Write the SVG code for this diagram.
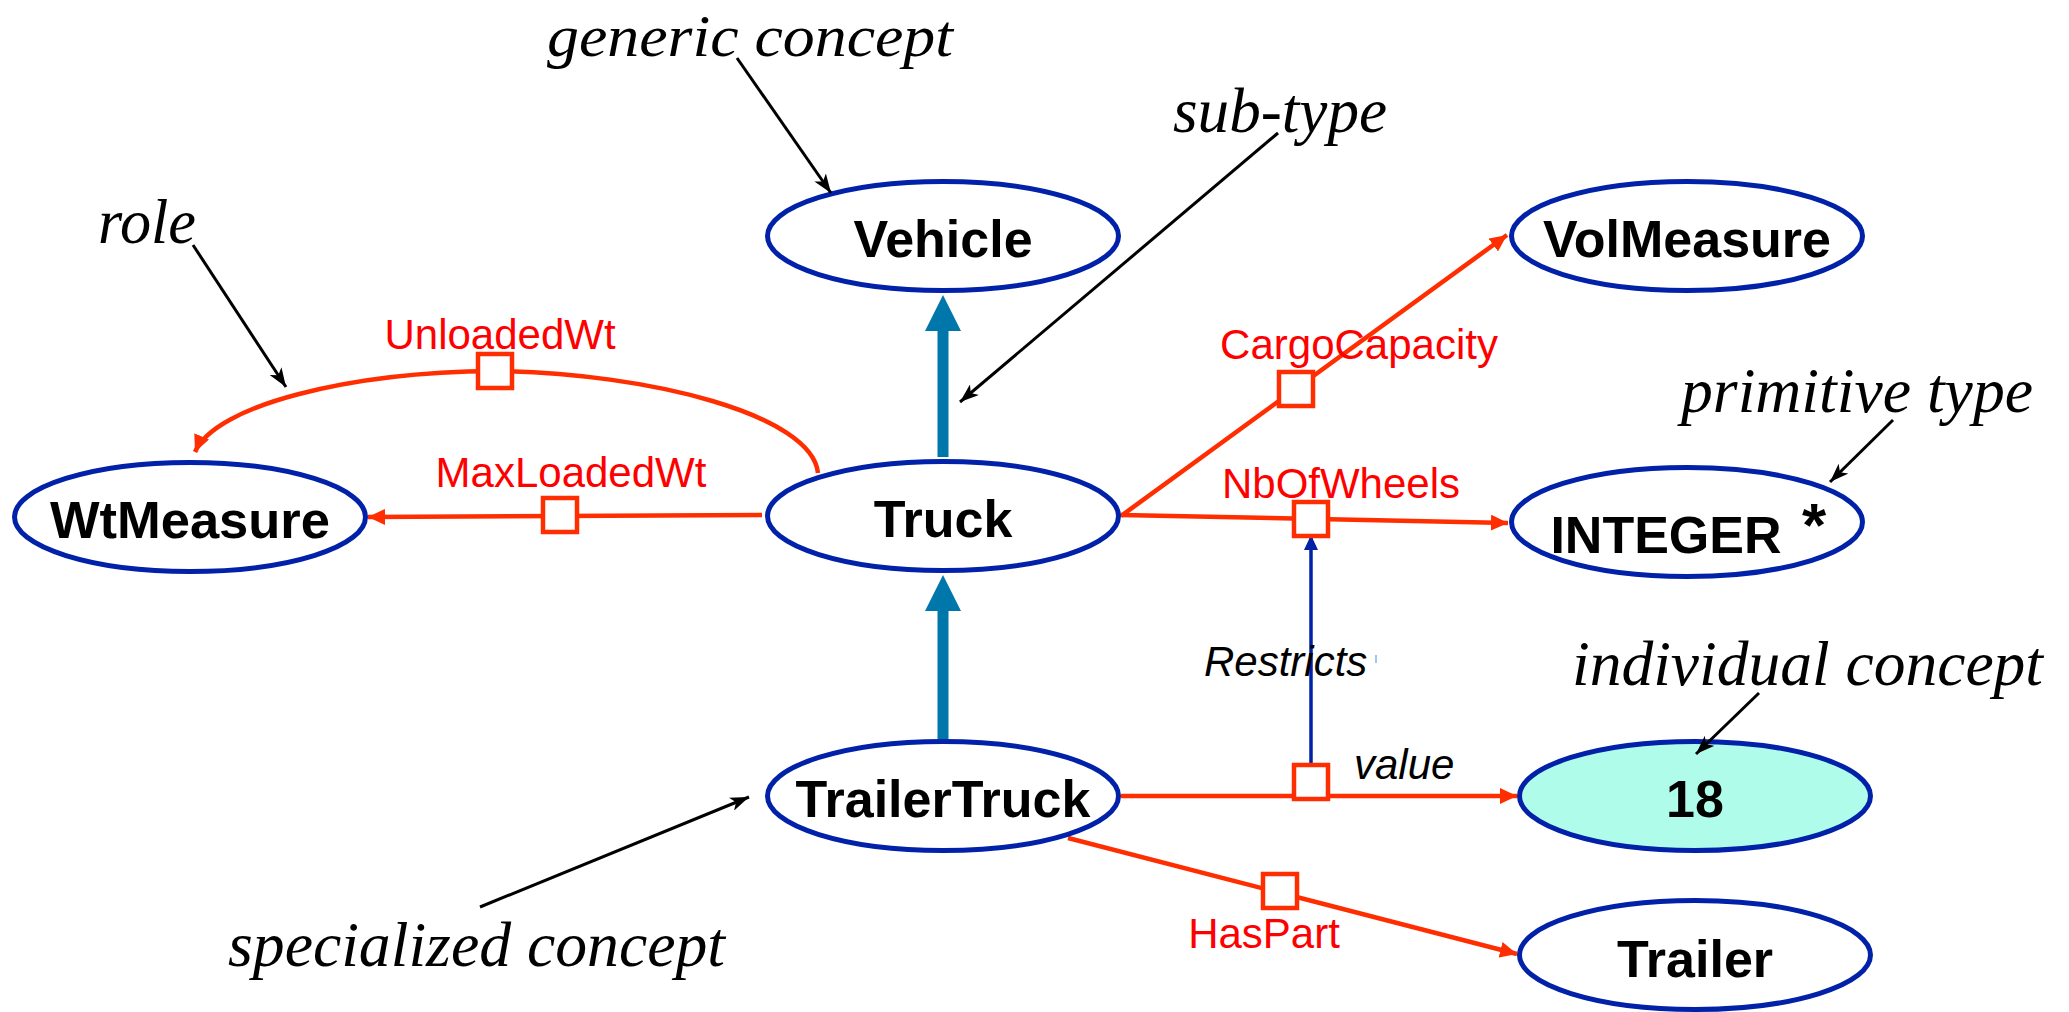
<svg xmlns="http://www.w3.org/2000/svg" width="2069" height="1012" viewBox="0 0 2069 1012">
<style>
.node ellipse{fill:#fff;stroke:#0021A8;stroke-width:5}
.node text{font-family:"Liberation Sans",Arial,sans-serif;font-weight:bold;font-size:52px;fill:#000;text-anchor:middle}
.rel{fill:none;stroke:#FF2E00;stroke-width:4.5}
.box{fill:#fff;stroke:#FF2E00;stroke-width:4.5}
.lbl{font-family:"Liberation Sans",Arial,sans-serif;font-size:42px;fill:#FF0000;text-anchor:middle}
.ital{font-family:"Liberation Sans",Arial,sans-serif;font-style:italic;font-size:42px;fill:#000}
.note{font-family:"Liberation Serif","Times New Roman",serif;font-style:italic;font-size:64px;fill:#000}
.pointer{fill:none;stroke:#000;stroke-width:3}
.isa{fill:#0077AA}
</style>
<defs>
<marker id="redArrow" markerUnits="userSpaceOnUse" markerWidth="18" markerHeight="16" refX="17" refY="8" orient="auto">
<path d="M0,0 L17,8 L0,16 z" fill="#FF2E00"/>
</marker>
<marker id="blkArrow" markerUnits="userSpaceOnUse" markerWidth="20" markerHeight="14" refX="19" refY="7" orient="auto">
<path d="M0,0 L19,7 L0,14 L5,7 z" fill="#000"/>
</marker>
<marker id="blueArrow" markerUnits="userSpaceOnUse" markerWidth="16" markerHeight="14" refX="15" refY="7" orient="auto">
<path d="M0,0 L15,7 L0,14 z" fill="#0021A8"/>
</marker>
</defs>

<g id="connectors">
<rect class="isa" x="937.5" y="328" width="11" height="129"/>
<polygon class="isa" points="943,295 925,331 961,331"/>
<rect class="isa" x="937.5" y="608" width="11" height="131"/>
<polygon class="isa" points="943,575 925,611 961,611"/>
<path class="rel" d="M818,473 C812,415 650,373 495,371 C350,372 215,405 195,452" marker-end="url(#redArrow)"/>
<line class="rel" x1="762" y1="515" x2="368" y2="517" marker-end="url(#redArrow)"/>
<line class="rel" x1="1121" y1="516" x2="1507" y2="235" marker-end="url(#redArrow)"/>
<line class="rel" x1="1121" y1="515" x2="1508" y2="523" marker-end="url(#redArrow)"/>
<line class="rel" x1="1121" y1="796" x2="1517" y2="796" marker-end="url(#redArrow)"/>
<line class="rel" x1="1068" y1="838" x2="1517" y2="954" marker-end="url(#redArrow)"/>
<line x1="1311" y1="766" x2="1311" y2="535" stroke="#0021A8" stroke-width="3.5" marker-end="url(#blueArrow)"/>
<line x1="1376" y1="655" x2="1376" y2="663" stroke="#7FB6E0" stroke-width="1.5"/>
<rect class="box" x="478" y="354" width="34" height="34"/>
<rect class="box" x="543" y="498" width="34" height="34"/>
<rect class="box" x="1279" y="372" width="34" height="34"/>
<rect class="box" x="1294" y="502" width="34" height="34"/>
<rect class="box" x="1294" y="765" width="34" height="34"/>
<rect class="box" x="1263" y="874" width="34" height="34"/>
<text class="lbl" x="500" y="349">UnloadedWt</text>
<text class="lbl" x="571" y="487">MaxLoadedWt</text>
<text class="lbl" x="1359" y="359">CargoCapacity</text>
<text class="lbl" x="1341" y="498">NbOfWheels</text>
<text class="lbl" x="1264" y="948">HasPart</text>
<text class="ital" x="1204" y="676">Restricts</text>
<text class="ital" x="1354" y="779">value</text>
</g>

<g id="node-vehicle" class="node"><ellipse cx="943" cy="236" rx="175.5" ry="54.5"/><text x="943" y="257">Vehicle</text></g>
<g id="node-truck" class="node"><ellipse cx="943" cy="516" rx="175.5" ry="54.5"/><text x="943" y="537">Truck</text></g>
<g id="node-trailertruck" class="node"><ellipse cx="943" cy="796" rx="175.5" ry="54.5"/><text x="943" y="817">TrailerTruck</text></g>
<g id="node-wtmeasure" class="node"><ellipse cx="190" cy="517" rx="175.5" ry="54.5"/><text x="190" y="538" textLength="280" lengthAdjust="spacingAndGlyphs">WtMeasure</text></g>
<g id="node-volmeasure" class="node"><ellipse cx="1687" cy="236" rx="175.5" ry="54.5"/><text x="1687" y="257">VolMeasure</text></g>
<g id="node-integer" class="node"><ellipse cx="1687" cy="522" rx="175.5" ry="54.5"/><text x="1666" y="553">INTEGER</text><text x="1814" y="546" style="font-size:62px">*</text></g>
<g id="node-18" class="node"><ellipse cx="1695" cy="796" rx="175.5" ry="54.5" style="fill:#AFFCEA"/><text x="1695" y="817">18</text></g>
<g id="node-trailer" class="node"><ellipse cx="1695" cy="955" rx="175.5" ry="54.5"/><text x="1695" y="977">Trailer</text></g>

<g id="annotations">
<text class="note" x="547" y="56" textLength="406" lengthAdjust="spacingAndGlyphs" style="font-size:60px">generic concept</text>
<line class="pointer" x1="737" y1="58" x2="831" y2="193" marker-end="url(#blkArrow)"/>
<text class="note" x="1173" y="132" textLength="214" lengthAdjust="spacingAndGlyphs">sub-type</text>
<line class="pointer" x1="1278" y1="133" x2="960" y2="402" marker-end="url(#blkArrow)"/>
<text class="note" x="98" y="243" textLength="98" lengthAdjust="spacingAndGlyphs">role</text>
<line class="pointer" x1="193" y1="245" x2="286" y2="387" marker-end="url(#blkArrow)"/>
<text class="note" x="1681" y="412" textLength="352" lengthAdjust="spacingAndGlyphs">primitive type</text>
<line class="pointer" x1="1893" y1="420" x2="1830" y2="482" marker-end="url(#blkArrow)"/>
<text class="note" x="1572" y="685" textLength="471" lengthAdjust="spacingAndGlyphs">individual concept</text>
<line class="pointer" x1="1759" y1="693" x2="1696" y2="754" marker-end="url(#blkArrow)"/>
<text class="note" x="228" y="966" textLength="497" lengthAdjust="spacingAndGlyphs">specialized concept</text>
<line class="pointer" x1="480" y1="907" x2="749" y2="797" marker-end="url(#blkArrow)"/>
</g>
</svg>
